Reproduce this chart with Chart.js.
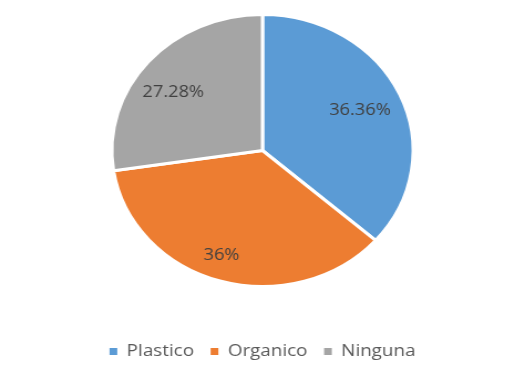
<!DOCTYPE html>
<html>
<head>
<meta charset="utf-8">
<script src="https://cdn.jsdelivr.net/npm/chart.js@4.4.1/dist/chart.umd.min.js"></script>
<style>
  html, body { margin: 0; padding: 0; background: #fff; overflow: hidden; }
  /* the drawing is slightly wider than tall, so stretch the canvas horizontally */
  #wrap { width: 474px; height: 374px; transform: scaleX(1.1076); transform-origin: 0 0; }
</style>
</head>
<body>
<div id="wrap"><canvas id="pieChart" width="474" height="374"></canvas></div>
<script>
const categories = ['Plastico', 'Organico', 'Ninguna'];
const percentages = [36.36, 36, 27.28];
const sliceColors = ['#5B9BD5', '#ED7D31', '#A5A5A5'];

// value labels inside each slice
const sliceLabels = {
  id: 'sliceLabels',
  afterDatasetsDraw(chart, args, opts) {
    const ctx = chart.ctx;
    const meta = chart.getDatasetMeta(0);
    ctx.save();
    ctx.font = opts.font;
    ctx.fillStyle = opts.color;
    ctx.textAlign = 'center';
    ctx.textBaseline = 'middle';
    meta.data.forEach(function(arc, i) {
      const mid = (arc.startAngle + arc.endAngle) / 2 + opts.shift[i] * Math.PI / 180;
      const r = arc.outerRadius * opts.radius[i];
      const x = arc.x + Math.cos(mid) * r;
      const y = arc.y + Math.sin(mid) * r;
      ctx.fillText(chart.data.datasets[0].data[i] + '%', x, y);
    });
    ctx.restore();
  }
};

const ctx = document.getElementById('pieChart').getContext('2d');
new Chart(ctx, {
  type: 'pie',
  data: {
    labels: categories,
    datasets: [{
      data: percentages,
      backgroundColor: sliceColors,
      borderColor: '#ffffff',
      borderWidth: 3,
      radius: 136
    }]
  },
  options: {
    responsive: false,
    animation: false,
    layout: {
      padding: { top: 0, bottom: 4, left: 0, right: 0 }
    },
    plugins: {
      tooltip: { enabled: false },
      legend: {
        position: 'bottom',
        // empty title only used as a spacer above the legend row
        title: {
          display: true,
          text: ' ',
          font: { size: 10, lineHeight: 1 },
          padding: { top: 17, bottom: 0 }
        },
        labels: {
          boxWidth: 7,
          boxHeight: 7,
          padding: 15,
          color: '#595959',
          font: { family: 'Open Sans', size: 17 },
          // plain filled squares, without the white slice border
          generateLabels(chart) {
            const items = Chart.overrides.pie.plugins.legend.labels.generateLabels(chart);
            items.forEach(function(item) { item.lineWidth = 0; });
            return items;
          }
        }
      },
      sliceLabels: {
        font: '16.5px "Open Sans"',
        color: '#404040',
        radius: [0.71, 0.82, 0.73],
        shift: [0, 3, -5]
      }
    }
  },
  plugins: [sliceLabels]
});
</script>
</body>
</html>
